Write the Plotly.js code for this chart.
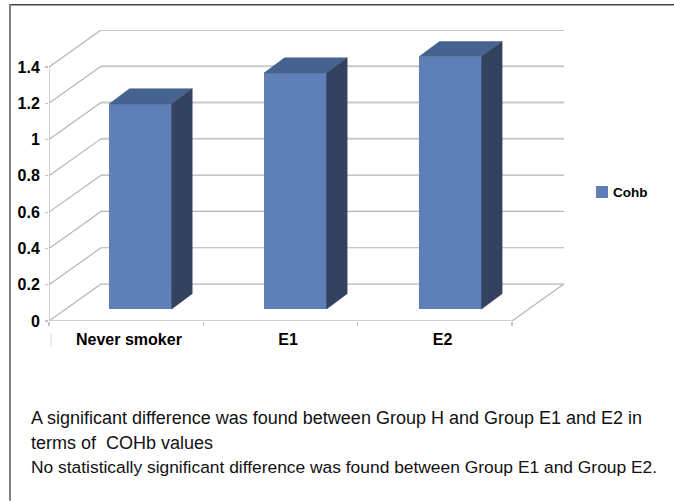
<!DOCTYPE html>
<html>
<head>
<meta charset="utf-8">
<script src="https://cdn.plot.ly/plotly-3.0.1.min.js"></script>
<style>html,body{margin:0;padding:0;background:#fff}#chart{width:674px;height:501px}</style>
</head>
<body>
<div id="chart"></div>
<script>
// Carboxyhaemoglobin by smoking group
const categories = ['Never smoker', 'E1', 'E2'];
const seriesName = 'Cohb';
const cohb = [1.13, 1.30, 1.39];
const yTicks = [0, 0.2, 0.4, 0.6, 0.8, 1, 1.2, 1.4];
const yTickLabels = ['0', '0.2', '0.4', '0.6', '0.8', '1', '1.2', '1.4'];
const noteLines = [
  'A significant difference was found between Group H and Group E1 and E2 in',
  'terms of  COHb values',
  'No statistically significant difference was found between Group E1 and Group E2.'
];

const W = 674, H = 501;
const n = categories.length;
const yMax = yTicks[yTicks.length - 1];
const xUnit = 463 / n;          // px per category on the front plane
const yUnit = 254.3 / yMax;     // px per value unit on the front plane

// Oblique projection: pixel offsets turned into axis units
const wallDx = 52 / xUnit, wallDy = 37 / yUnit;
const barDx = 20.5 / xUnit, barDy = 15.3 / yUnit;
const barBase = 12 / yUnit;
const barWidth = 62.7 / xUnit;
const barCenters = categories.map((_, i) => i + 0.592 + i * 0.004);
const labelCenters = [0.518, 1.549, 2.55];

const M = {l: 49, r: W - 49 - 463 - 52, t: 321 - 254.3 - 37, b: H - 321};
const plotW = W - M.l - M.r, plotH = H - M.t - M.b;

const GRID_LIGHT = '#c9c9c9', GRID_DARK = '#b4b4b4', AXIS = '#c2c2c2';

// Wall, floor and axis lines sit underneath the columns
const seg = (x0, y0, x1, y1, color, width) => ({type: 'line', layer: 'below', xref: 'x', yref: 'y',
  x0, y0, x1, y1, line: {color, width}});
const gridShapes = [];
yTicks.forEach(v => {
  const heavy = v >= 0.8;
  const c = heavy ? GRID_LIGHT : GRID_DARK, w = heavy ? 2 : 1.2;
  gridShapes.push(seg(0, v, wallDx, v + wallDy, GRID_DARK, 1.2));
  gridShapes.push(seg(wallDx, v + wallDy, n + wallDx, v + wallDy, c, w));
});
gridShapes.push(seg(n, 0, n + wallDx, wallDy, GRID_DARK, 1.2));
gridShapes.push(seg(0, 0, n, 0, AXIS, 1.5));
gridShapes.push(seg(0, 0, 0, yMax, AXIS, 1.5));

const traces = [];
function face(xs, ys, color) {
  traces.push({type: 'scatter', mode: 'lines', x: xs.concat(xs[0]), y: ys.concat(ys[0]), fill: 'toself',
    fillcolor: color, showlegend: false, hoverinfo: 'skip', line: {color: color, width: 0.5}});
}

// Front faces of the columns
traces.push({type: 'bar', name: seriesName, x: barCenters, y: cohb, base: barBase, width: barWidth,
  marker: {color: '#5f7fb9', line: {width: 0}}, hoverinfo: 'skip', showlegend: true});

// Top and side faces of the columns
cohb.forEach((v, i) => {
  const xl = barCenters[i] - barWidth / 2, xr = barCenters[i] + barWidth / 2;
  const top = barBase + v;
  face([xl, xr, xr + barDx, xl + barDx], [top, top, top + barDy, top + barDy], '#46628f');
  face([xr, xr + barDx, xr + barDx, xr], [barBase, barBase + barDy, top + barDy, top], '#33435f');
});

const px = x => (x - M.l) / plotW;
const py = y => 1 - (y - M.t) / plotH;

const noteY = [418, 443, 467];
const noteSize = [18, 18, 17.4];
const annotations = noteLines.map((t, i) => ({
  text: t, xref: 'paper', yref: 'paper', x: px(28.5), y: py(noteY[i]), xanchor: 'left', yanchor: 'middle',
  showarrow: false, align: 'left', font: {family: 'Liberation Sans', size: noteSize[i], color: '#111'}
}));

const frame = (x0, y0, x1, y1, color, width) => ({type: 'line', xref: 'paper', yref: 'paper',
  x0: px(x0), y0: py(y0), x1: px(x1), y1: py(y1), line: {color, width}});

const boldTick = {family: 'Liberation Sans', size: 16, color: '#000', weight: 'bold'};

const layout = {
  width: W, height: H, margin: M, paper_bgcolor: '#fff', plot_bgcolor: 'rgba(0,0,0,0)',
  font: {family: 'Liberation Sans', color: '#000'},
  bargap: 0,
  xaxis: {
    range: [0, n + wallDx], showgrid: false, zeroline: false, showline: false, fixedrange: true,
    tickmode: 'array', tickvals: labelCenters, ticktext: categories, ticks: '', ticklen: 0,
    tickfont: boldTick, ticklabelstandoff: 7,
    minor: {tickmode: 'array', tickvals: [0, 1, 2, 3], ticks: 'outside', ticklen: 4, tickwidth: 1.2, tickcolor: AXIS, showgrid: false}
  },
  yaxis: {
    range: [0, yMax + wallDy], showgrid: false, zeroline: false, showline: false, fixedrange: true,
    tickmode: 'array', tickvals: yTicks, ticktext: yTickLabels, ticks: 'outside', ticklen: 3, tickwidth: 1.2, tickcolor: AXIS,
    tickfont: boldTick, ticklabelstandoff: 2
  },
  legend: {x: px(582), y: py(192), xanchor: 'left', yanchor: 'middle', bgcolor: 'rgba(0,0,0,0)',
    font: {family: 'Liberation Sans', size: 13.5, color: '#000', weight: 'bold'}},
  annotations: annotations,
  shapes: gridShapes.concat([
    frame(9, 4.5, 674, 4.5, '#454545', 1.5),
    frame(10, 4, 10, 501, '#808080', 2),
    frame(51, 334, 51, 347, '#d4d4d4', 1)
  ])
};

Plotly.newPlot('chart', traces, layout, {displayModeBar: false, staticPlot: true}).then(() => {
  // Tighten the gap between the legend swatch and its label
  document.querySelectorAll('.legendtext').forEach(t => t.setAttribute('x', +t.getAttribute('x') - 9));
});
</script>
</body>
</html>
